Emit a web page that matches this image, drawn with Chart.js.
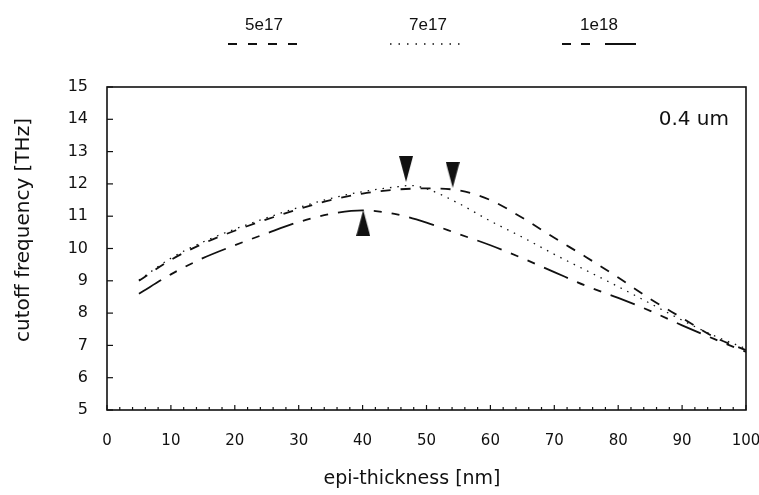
<!DOCTYPE html>
<html>
<head>
<meta charset="utf-8">
<script src="https://cdn.jsdelivr.net/npm/chart.js@4/dist/chart.umd.min.js"></script>
<style>
  html, body { margin: 0; padding: 0; background: #fff; }
  #wrap { width: 759px; height: 495px; position: relative; }
</style>
</head>
<body>
<div id="wrap"><canvas id="c" width="759" height="495"></canvas></div>
<script>
// ---- data ----
const seriesNames = ['5e17', '7e17', '1e18'];
const thickness = [5, 10, 15, 20, 25, 30, 35, 40, 45, 50, 55, 60, 65, 70, 75, 80, 85, 90, 95, 100];
const f5e17 = [9.0, 9.65, 10.15, 10.55, 10.9, 11.22, 11.5, 11.7, 11.82, 11.86, 11.8, 11.5, 10.95, 10.33, 9.73, 9.1, 8.44, 7.85, 7.26, 6.85];
const thickness7e17 = [5, 10, 15, 20, 25, 30, 35, 40, 45, 47.5, 50, 55, 60, 65, 70, 75, 80, 85, 90, 95, 100];
const f7e17 = [9.02, 9.7, 10.2, 10.6, 10.95, 11.27, 11.55, 11.76, 11.9, 11.95, 11.85, 11.4, 10.85, 10.35, 9.82, 9.32, 8.82, 8.3, 7.78, 7.3, 6.9];
const f1e18 = [8.6, 9.2, 9.7, 10.1, 10.47, 10.82, 11.07, 11.18, 11.07, 10.8, 10.45, 10.1, 9.7, 9.27, 8.84, 8.47, 8.07, 7.62, 7.2, 6.8];
const markerX = [46.8, 54.1, 40.1];
const markerY = [12.46, 12.28, 10.79];
const markerDir = ['down', 'down', 'up'];
const xTicks = [0, 10, 20, 30, 40, 50, 60, 70, 80, 90, 100];
const yTicks = [5, 6, 7, 8, 9, 10, 11, 12, 13, 14, 15];
const annotationText = '0.4 um';
const xTitle = 'epi-thickness [nm]';
const yTitle = 'cutoff frequency [THz]';

// ---- styles ----
const INK = '#111';
const FONT = '"DejaVu Sans", "Liberation Sans", sans-serif';
const LFONT = '"Liberation Sans", "DejaVu Sans", sans-serif';
const dashes = [[10, 10], [1.5, 6], [26, 10, 8, 10, 8, 10]];
const widths = [1.8, 1.3, 1.8];

function pts(xa, ya) { return xa.map((x, i) => ({ x: x, y: ya[i] })); }

function triCanvas(dir) {
  const c = document.createElement('canvas');
  c.width = 14; c.height = 26;
  const g = c.getContext('2d');
  g.fillStyle = INK;
  g.beginPath();
  if (dir === 'down') { g.moveTo(0, 0); g.lineTo(14, 0); g.lineTo(7, 26); }
  else { g.moveTo(7, 0); g.lineTo(14, 26); g.lineTo(0, 26); }
  g.closePath(); g.fill();
  return c;
}
const markerImgs = markerDir.map(triCanvas);

const lineDs = (label, data, i) => ({
  label: label, data: data, borderColor: INK, borderWidth: widths[i],
  borderDash: dashes[i], pointRadius: 0, fill: false,
  cubicInterpolationMode: 'monotone', tension: 0.4
});

const framePlugin = {
  id: 'frame',
  afterDraw(chart) {
    const ctx = chart.ctx, a = chart.chartArea;
    const xs = chart.scales.x, ys = chart.scales.y;
    ctx.save();
    ctx.strokeStyle = INK; ctx.lineWidth = 1.6; ctx.setLineDash([]);
    ctx.strokeRect(a.left, a.top, a.right - a.left, a.bottom - a.top);
    ctx.lineWidth = 1.2;
    yTicks.forEach(v => {
      const y = ys.getPixelForValue(v);
      ctx.beginPath(); ctx.moveTo(a.left, y); ctx.lineTo(a.left + 6, y); ctx.stroke();
    });
    for (let v = 0; v <= 100; v += 2) {
      const x = xs.getPixelForValue(v);
      const len = (v % 10 === 0) ? 5 : 3;
      ctx.beginPath(); ctx.moveTo(x, a.bottom); ctx.lineTo(x, a.bottom - len); ctx.stroke();
    }
    ctx.fillStyle = INK;
    ctx.font = '20px ' + FONT;
    ctx.textAlign = 'right'; ctx.textBaseline = 'middle';
    ctx.fillText(annotationText, 729, 120);
    ctx.textAlign = 'center';
    ctx.font = '19px ' + FONT;
    ctx.fillText(xTitle, 412, 479);
    ctx.save();
    ctx.translate(24, 230); ctx.rotate(-Math.PI / 2);
    ctx.font = '20px ' + FONT;
    ctx.fillText(yTitle, 0, 0);
    ctx.restore();
    const lx = [[228, 300], [390, 466], [562, 636]];
    ctx.font = '17px ' + LFONT;
    seriesNames.forEach((n, i) => {
      const cx = (lx[i][0] + lx[i][1]) / 2;
      ctx.fillText(n, cx, 25);
      ctx.lineWidth = widths[i] + 0.3;
      ctx.setLineDash(i === 2 ? [9, 10, 9, 15, 32, 0] : (i === 0 ? [9, 11] : [1.5, 7]));
      ctx.beginPath(); ctx.moveTo(lx[i][0], 44); ctx.lineTo(lx[i][1], 44); ctx.stroke();
    });
    ctx.restore();
  }
};

new Chart(document.getElementById('c'), {
  type: 'line',
  data: {
    datasets: [
      lineDs(seriesNames[0], pts(thickness, f5e17), 0),
      lineDs(seriesNames[1], pts(thickness7e17, f7e17), 1),
      lineDs(seriesNames[2], pts(thickness, f1e18), 2),
      {
        type: 'scatter', label: 'markers', data: pts(markerX, markerY),
        pointStyle: markerImgs, pointRadius: 8, showLine: false
      }
    ]
  },
  plugins: [framePlugin],
  options: {
    responsive: false, animation: false,
    layout: { padding: { top: 87, right: 13, left: 0, bottom: 0 } },
    plugins: { legend: { display: false }, tooltip: { enabled: false } },
    scales: {
      x: {
        type: 'linear', min: 0, max: 100,
        afterFit: s => { s.height = 85; s.paddingLeft = 0; s.paddingRight = 0; },
        afterBuildTicks: s => { s.ticks = xTicks.map(v => ({ value: v })); },
        ticks: { color: INK, font: { family: FONT, size: 15 }, padding: 14, maxRotation: 0 },
        grid: { display: false }, border: { display: false }
      },
      y: {
        type: 'linear', min: 5, max: 15,
        afterFit: s => { s.width = 107; s.paddingTop = 0; s.paddingBottom = 0; },
        afterBuildTicks: s => { s.ticks = yTicks.map(v => ({ value: v })); },
        ticks: { color: INK, font: { family: FONT, size: 16 }, padding: 11 },
        grid: { display: false }, border: { display: false }
      }
    }
  }
});
</script>
</body>
</html>
